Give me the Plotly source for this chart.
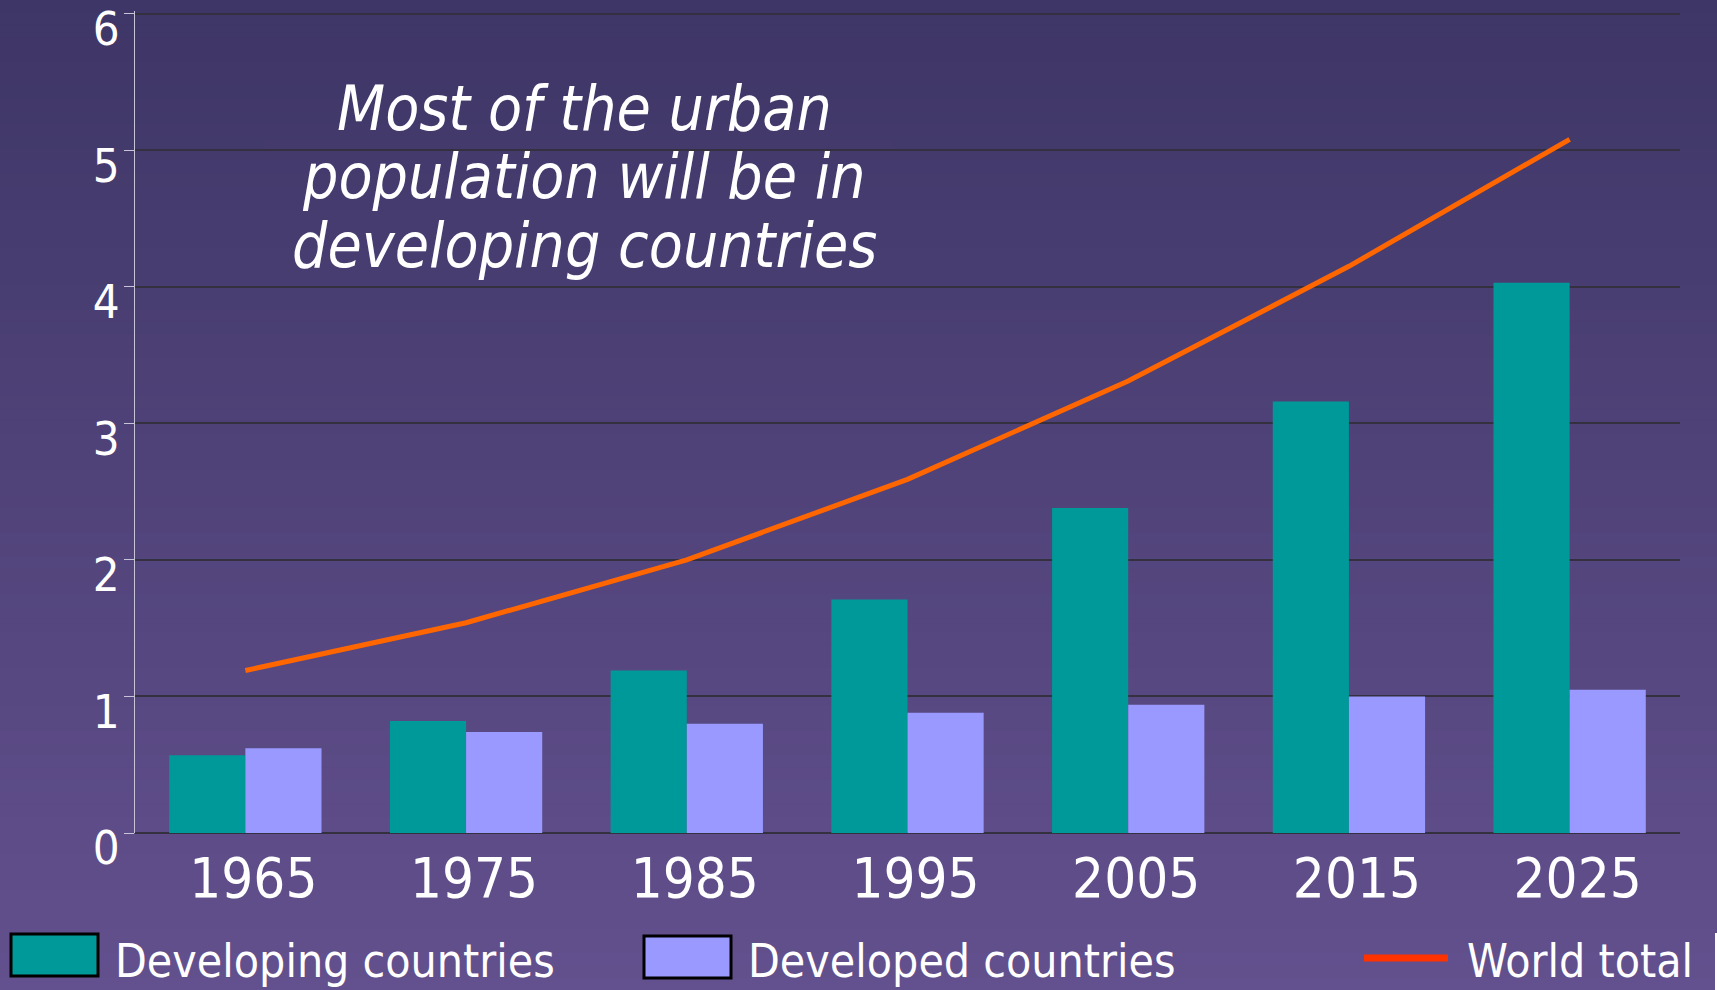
import plotly.graph_objects as go

# ---- data ----
years = ["1965", "1975", "1985", "1995", "2005", "2015", "2025"]
developing = [0.57, 0.82, 1.19, 1.71, 2.38, 3.16, 4.03]
developed = [0.62, 0.74, 0.80, 0.88, 0.94, 1.00, 1.05]
world_total = [1.19, 1.54, 2.00, 2.59, 3.31, 4.15, 5.08]
y_ticks = [0, 1, 2, 3, 4, 5, 6]
series_names = ["Developing countries", "Developed countries", "World total"]
note_lines = ["Most of the urban", "population will be in", "developing countries"]

# ---- styling ----
W, H = 1717, 990
ML, MR, MT, MB = 135, 37, 11, 157
PW, PH = W - ML - MR, H - MT - MB
FONT = "DejaVu Sans Condensed, DejaVu Sans, sans-serif"
TEAL, LAV, ORANGE, LEG_ORANGE = "#009999", "#9999ff", "#ff6600", "#ff3300"
TOP = (62, 54, 102)
BOT = (99, 80, 142)


def px(x):
    return (x - ML) / PW


def py(y):
    return (H - MB - y) / PH


def grad(y):
    t = y / H
    c = [round(a + (b - a) * t) for a, b in zip(TOP, BOT)]
    return "rgb(%d,%d,%d)" % tuple(c)


fig = go.Figure()
fig.add_trace(go.Bar(x=years, y=developing, name=series_names[0],
                     marker=dict(color=TEAL, line=dict(width=0))))
fig.add_trace(go.Bar(x=years, y=developed, name=series_names[1],
                     marker=dict(color=LAV, line=dict(width=0))))
fig.add_trace(go.Scatter(x=years, y=world_total, name=series_names[2], mode="lines",
                         line=dict(color=ORANGE, width=5)))

shapes = []
# vertical gradient background
N = 80
for i in range(N):
    y0 = H * i / N
    y1 = H * (i + 1) / N + 1
    shapes.append(dict(type="rect", xref="paper", yref="paper", layer="below",
                       x0=px(0), x1=px(W), y0=py(y1), y1=py(y0),
                       fillcolor=grad((y0 + y1) / 2), line=dict(width=0)))
# text box masking the gridline behind the note
shapes.append(dict(type="rect", xref="paper", yref="paper", layer="between",
                   x0=px(265), x1=px(893), y0=py(160), y1=py(140),
                   fillcolor=grad(150), line=dict(width=0)))

# custom legend
shapes.append(dict(type="rect", xref="paper", yref="paper", layer="above",
                   x0=px(11), x1=px(98), y0=py(976), y1=py(934),
                   fillcolor=TEAL, line=dict(color="black", width=3)))
shapes.append(dict(type="rect", xref="paper", yref="paper", layer="above",
                   x0=px(644), x1=px(731), y0=py(978), y1=py(936),
                   fillcolor=LAV, line=dict(color="black", width=3)))
shapes.append(dict(type="line", xref="paper", yref="paper", layer="above",
                   x0=px(1364), x1=px(1448), y0=py(958), y1=py(958),
                   line=dict(color=LEG_ORANGE, width=7)))
shapes.append(dict(type="rect", xref="paper", yref="paper", layer="above",
                   x0=px(1715), x1=px(1717), y0=py(990), y1=py(933),
                   fillcolor="white", line=dict(width=0)))

annotations = []
for name, x in zip(series_names, [113, 746, 1465]):
    annotations.append(dict(text=name, xref="paper", yref="paper", x=px(x), y=py(961),
                            xanchor="left", yanchor="middle", showarrow=False,
                            font=dict(family=FONT, size=46, color="white")))
for line, yb in zip(note_lines, [109, 177, 245]):
    annotations.append(dict(text="<i>" + line + "</i>", xref="paper", yref="paper",
                            x=px(584), y=py(yb), xanchor="center", yanchor="middle",
                            showarrow=False,
                            font=dict(family=FONT, size=62, color="white")))

fig.update_layout(
    width=W, height=H,
    margin=dict(l=ML, r=MR, t=MT, b=MB, autoexpand=False),
    paper_bgcolor="rgb(80,67,122)",
    plot_bgcolor="rgba(0,0,0,0)",
    barmode="group", bargap=0.31, bargroupgap=0,
    showlegend=False,
    shapes=shapes, annotations=annotations,
    font=dict(family=FONT, color="white"),
    xaxis=dict(type="category", showgrid=False, showline=False, ticks="",
               tickfont=dict(family=FONT, size=56, color="white"),
               ticklabelshift=8, ticklabelstandoff=7, automargin=False,
               fixedrange=True),
    yaxis=dict(range=[0, 6.02], tickvals=y_ticks, showgrid=True,
               gridcolor="#34303f", gridwidth=1.5,
               zeroline=True, zerolinecolor="#34303f", zerolinewidth=1.5,
               showline=True, linecolor="#c8c4d8", linewidth=1,
               ticks="outside", ticklen=10, tickcolor="#c8c4d8", tickwidth=1,
               tickfont=dict(family=FONT, size=47, color="white"),
               ticklabelshift=15, ticklabelstandoff=-5, automargin=False,
               fixedrange=True),
)

fig.write_html("out.html", config={"displayModeBar": False},
               post_script="document.body.style.margin='0';document.body.style.overflow='hidden';")
